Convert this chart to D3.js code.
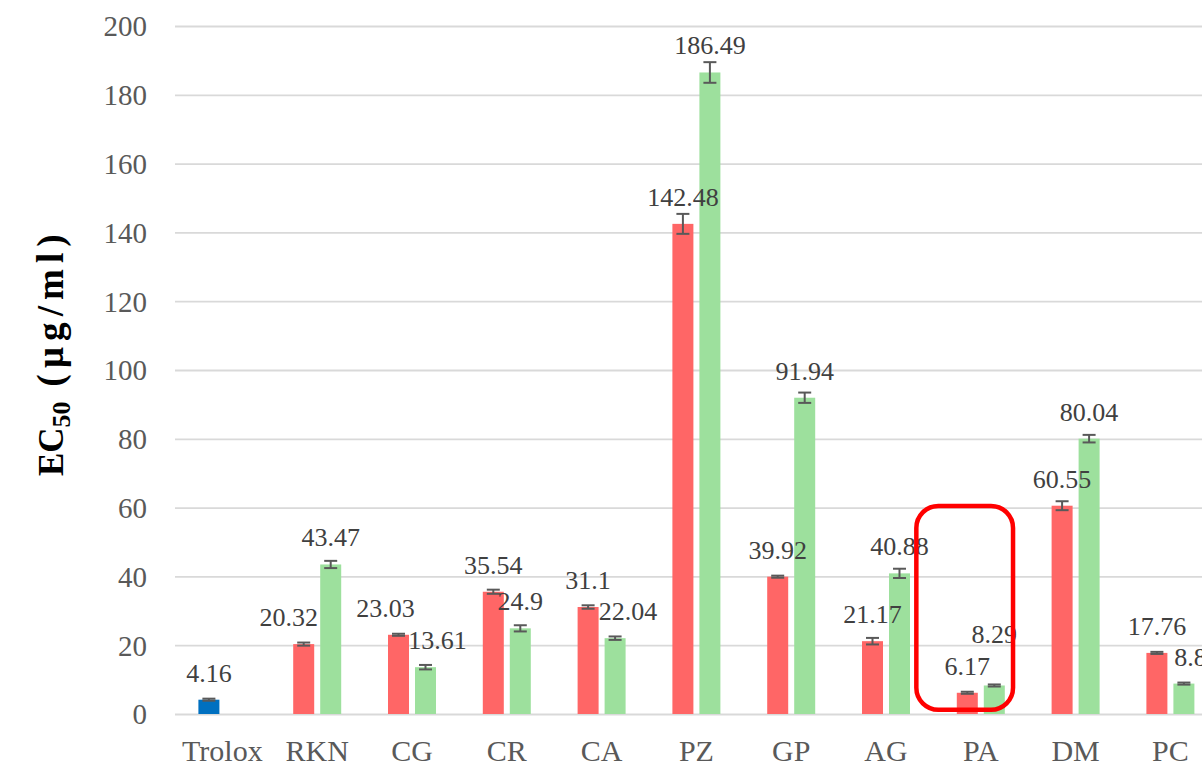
<!DOCTYPE html>
<html>
<head>
<meta charset="utf-8">
<script src="https://cdn.jsdelivr.net/npm/d3@7/dist/d3.min.js"></script>
<style>
  html, body { margin: 0; padding: 0; background: #ffffff; }
  svg { display: block; }
</style>
</head>
<body>
<svg id="chart" width="1202" height="766"></svg>
<script>
// ---------------- data ----------------
const categories = ["Trolox", "RKN", "CG", "CR", "CA", "PZ", "GP", "AG", "PA", "DM", "PC"];
const controlValues = [4.16, null, null, null, null, null, null, null, null, null, null];
const controlErrors = [0.3, null, null, null, null, null, null, null, null, null, null];
const seriesRed = [null, 20.32, 23.03, 35.54, 31.1, 142.48, 39.92, 21.17, 6.17, 60.55, 17.76];
const errorsRed = [null, 0.45, 0.3, 0.6, 0.5, 2.9, 0.3, 0.95, 0.3, 1.3, 0.3];
const seriesGreen = [null, 43.47, 13.61, 24.9, 22.04, 186.49, 91.94, 40.88, 8.29, 80.04, 8.84];
const errorsGreen = [null, 1.05, 0.65, 0.9, 0.5, 3.0, 1.5, 1.35, 0.3, 1.1, 0.3];
const yTicks = [0, 20, 40, 60, 80, 100, 120, 140, 160, 180, 200];
const highlighted = "PA";

// ---------------- layout / style ----------------
const svg = d3.select("#chart");
const plotLeft = 175, plotTop = 26, plotBottom = 714;
const step = 94.8;
const x = d3.scaleBand().domain(categories).range([plotLeft, plotLeft + step * categories.length]).padding(0);
const y = d3.scaleLinear().domain([0, 200]).range([plotBottom, plotTop]);
const barW = 21, offset = 13.5;
const colors = { control: "#0070C0", red: "#FF6666", green: "#9DE09D" };
const serif = "'Liberation Serif', 'Times New Roman', serif";
// manual label nudges (px) used in the original to avoid overlaps
const labelNudge = {
  RKN: { red: [-15, 0] },
  CG: { red: [-13, 0], green: [12, 0] },
  CA: { green: [13, 0] },
  PA: { green: [0, -24] },
  PC: { green: [13, 0] }
};
const nudge = d => (labelNudge[d.c] && labelNudge[d.c][d.s]) || [0, 0];

// gridlines
svg.append("g")
  .attr("transform", `translate(${plotLeft},0)`)
  .call(d3.axisLeft(y).tickValues(yTicks).tickSize(-(1202 - plotLeft + 50)).tickFormat(""))
  .call(g => g.select(".domain").remove())
  .call(g => g.selectAll(".tick line").attr("stroke", "#D9D9D9").attr("stroke-width", 1.8));

// y tick labels
svg.append("g")
  .attr("transform", `translate(147,0)`)
  .call(d3.axisLeft(y).tickValues(yTicks).tickSize(0).tickPadding(0))
  .call(g => g.select(".domain").remove())
  .call(g => g.selectAll(".tick text")
    .attr("font-family", serif)
    .attr("font-size", 29).attr("fill", "#595959").attr("dy", "0.34em"));

// x labels
svg.append("g")
  .attr("transform", `translate(0,${plotBottom})`)
  .call(d3.axisBottom(x).tickSize(0).tickPadding(0))
  .call(g => g.select(".domain").remove())
  .call(g => g.selectAll(".tick text")
    .attr("font-family", serif)
    .attr("font-size", 30).attr("fill", "#595959").attr("dy", "0").attr("y", 47));

// build bar records
const records = [];
categories.forEach((c, i) => {
  if (controlValues[i] != null) records.push({ c, v: controlValues[i], e: controlErrors[i], s: "control", dx: -offset });
  if (seriesRed[i] != null) records.push({ c, v: seriesRed[i], e: errorsRed[i], s: "red", dx: -offset });
  if (seriesGreen[i] != null) records.push({ c, v: seriesGreen[i], e: errorsGreen[i], s: "green", dx: offset });
});
const cx = d => x(d.c) + x.bandwidth() / 2 + d.dx;

// bars
svg.append("g").selectAll("rect").data(records).join("rect")
  .attr("x", d => cx(d) - barW / 2)
  .attr("width", barW)
  .attr("y", d => y(d.v))
  .attr("height", d => y(0) - y(d.v))
  .attr("fill", d => colors[d.s]);

// error bars
const eb = svg.append("g").attr("stroke", "#595959").attr("stroke-width", 2).attr("fill", "none");
records.forEach(d => {
  const x0 = cx(d), yt = y(d.v + d.e), yb = y(d.v - d.e);
  eb.append("line").attr("x1", x0).attr("x2", x0).attr("y1", yt).attr("y2", yb);
  eb.append("line").attr("x1", x0 - 6.5).attr("x2", x0 + 6.5).attr("y1", yt).attr("y2", yt);
  eb.append("line").attr("x1", x0 - 6.5).attr("x2", x0 + 6.5).attr("y1", yb).attr("y2", yb);
});

// value labels
svg.append("g").selectAll("text").data(records).join("text")
  .attr("x", d => cx(d) + nudge(d)[0])
  .attr("y", d => y(d.v) - 18 + nudge(d)[1])
  .attr("text-anchor", "middle")
  .attr("font-family", serif)
  .attr("font-size", 26)
  .attr("fill", "#404040")
  .text(d => String(d.v));

// highlight box around PA
const bw = x.bandwidth();
svg.append("rect")
  .attr("x", x(highlighted) - 0.18 * bw)
  .attr("y", y(60.5))
  .attr("width", 1.02 * bw)
  .attr("height", y(1.2) - y(60.5))
  .attr("rx", 22).attr("ry", 22)
  .attr("fill", "none").attr("stroke", "#FF0000").attr("stroke-width", 4.5);

// y axis title
const title = svg.append("text")
  .attr("transform", "translate(63,476) rotate(-90)")
  .attr("font-family", serif)
  .attr("font-weight", "bold")
  .attr("font-size", 35)
  .attr("fill", "#000000");
title.append("tspan").text("EC");
title.append("tspan").attr("font-size", 26).attr("dy", 7).text("50");
title.append("tspan").attr("dy", -7).attr("dx", 15)
  .attr("font-size", 37)
  .attr("textLength", 152).attr("lengthAdjust", "spacing")
  .text("(μg/ml)");
</script>
</body>
</html>
